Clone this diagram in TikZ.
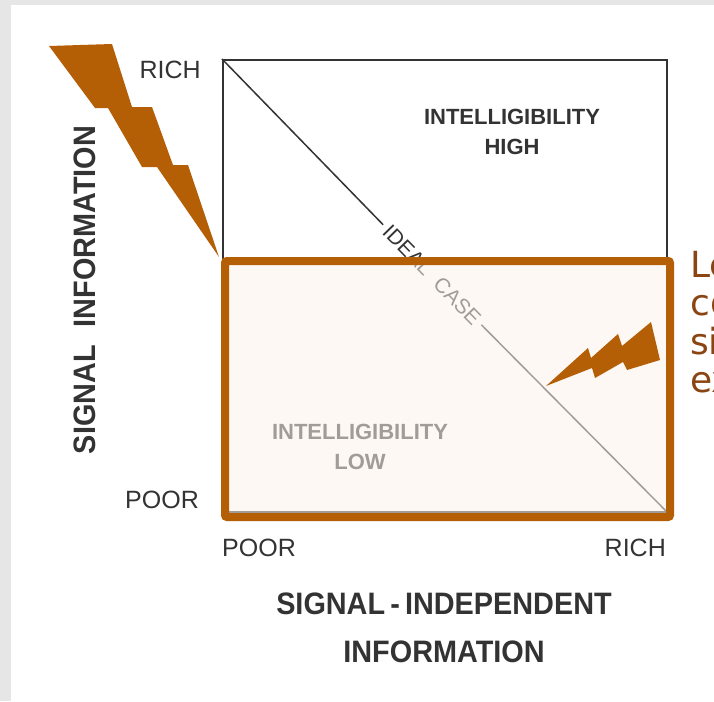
\documentclass[tikz,border=0pt]{standalone}
\usepackage{fontspec}
\setmainfont{Liberation Sans}
\newfontfamily\narrowfont[FakeStretch=0.93]{Liberation Sans}
\newfontfamily\notefont{DejaVu Sans}
\usetikzlibrary{positioning}
\definecolor{bolt}{HTML}{B45F06}
\definecolor{cream}{HTML}{FCF4EC}
\definecolor{ink}{HTML}{333333}
\definecolor{note}{HTML}{8B4513}
\definecolor{slide}{HTML}{E6E6E6}

\begin{document}
\begin{tikzpicture}[x=1pt, y=-1pt,
        axis/.style={font=\fontsize{25}{25}\selectfont, text=ink, inner sep=0pt},
        title/.style={font=\narrowfont\bfseries\fontsize{31}{31}\selectfont, text=ink, inner sep=0pt},
        region/.style={font=\bfseries\fontsize{22}{30}\selectfont, text=ink, align=center, inner sep=0pt},
        zap/.style={fill=bolt}]
        \useasboundingbox (0,0) rectangle (714,701);
        \clip (0,0) rectangle (714,701);
        \fill[slide] (0,0) rectangle (714,701);
        \fill[white] (11,5) rectangle (714,701);

        % chart frame and the diagonal
        \node (box) [draw=ink, line width=2pt, minimum width=444pt, minimum height=452pt, inner sep=0pt] at (445,286) {};
        \node (ideal) [rotate=-45.7, fill=white, inner sep=5pt, font=\fontsize{21}{21}\selectfont, text=ink] at (432,275) {IDEAL\hspace{12pt}CASE};
        \path[draw=ink, line width=1.5pt]
        (box.north west) edge (ideal)
        (ideal) edge (box.south east);

        \node (high) [region] at (512,132) {INTELLIGIBILITY\\HIGH};
        \node (low) [region] at (360,447) {INTELLIGIBILITY\\LOW};

        % axis ends
        \node (richY) [axis, anchor=east] at (201,70) {RICH};
        \node (poorY) [axis, anchor=east] at (199,500) {POOR};
        \node (poorX) [axis, anchor=west] at (222,548) {POOR};
        \node (richX) [axis, anchor=east] at (666,548) {RICH};

        \node (xtitle) [title] at (444,604) {SIGNAL\,-\,INDEPENDENT};
        \node (xtitle2) [title, below=25pt of xtitle] {INFORMATION};
        \node (ytitle) [title, rotate=90] at (85,290) {SIGNAL\hspace{18pt}INFORMATION};

        % highlighted low half
        \node (lowzone) [draw=bolt, line width=8pt, fill=cream, fill opacity=0.55, rounded corners=2pt, minimum width=445pt, minimum height=256pt, inner sep=0pt] at (447.5,389) {};

        \fill[zap] (49,46) -- (112,44) -- (132,107) -- (152,107) -- (173,165) -- (188,165) -- (219,257)
        -- (157,167) -- (142,167) -- (108,108) -- (95,108) -- cycle;
        \fill[zap] (546,386) -- (588,348) -- (591,358) -- (618,334) -- (622,346) -- (651,322) -- (660,360)
        -- (627,370) -- (623,362) -- (595,378) -- (592,368) -- cycle;

        \node (note) [font=\notefont\fontsize{36}{38.5}\selectfont, text=note, align=left, anchor=north west, inner sep=0pt] at (690,251) {Le\\co\\si\\ex};

    \end{tikzpicture}
\end{document}
